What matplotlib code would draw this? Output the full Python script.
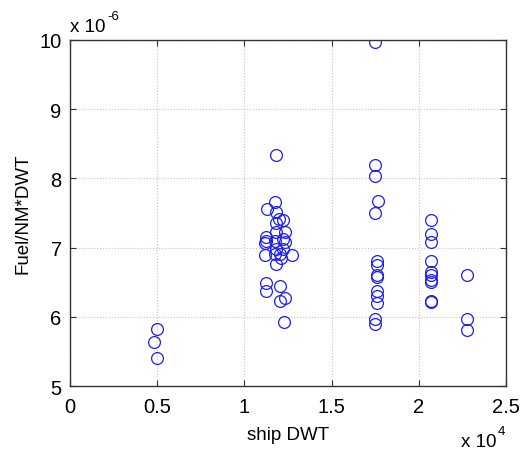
import matplotlib
matplotlib.use('Agg')
import matplotlib.pyplot as plt

# ship DWT in units of 1e4, fuel per NM per DWT in units of 1e-6
dwt = [0.50, 0.48, 0.50,
       1.184, 1.174, 1.13, 1.184, 1.20, 1.222, 1.18, 1.184, 1.23, 1.126,
       1.126, 1.174, 1.222, 1.23, 1.12, 1.184, 1.222, 1.12, 1.174, 1.203,
       1.275, 1.184, 1.21, 1.126, 1.126, 1.203, 1.207, 1.23, 1.226,
       1.747, 1.747, 1.747, 1.764, 1.747, 1.762, 1.762, 1.762, 1.762,
       1.762, 1.762, 1.762, 1.747, 1.747,
       2.07, 2.07, 2.07, 2.07, 2.07, 2.07, 2.07, 2.07, 2.07, 2.07,
       2.277, 2.277, 2.277]
fuel = [5.83, 5.64, 5.40,
        8.34, 7.66, 7.56, 7.51, 7.42, 7.40, 7.36, 7.22, 7.22, 7.16,
        7.10, 7.10, 7.13, 7.08, 7.06, 6.98, 6.98, 6.89, 6.91, 6.91,
        6.89, 6.77, 6.85, 6.49, 6.38, 6.45, 6.23, 6.27, 5.93,
        9.97, 8.19, 8.03, 7.68, 7.50, 6.80, 6.75, 6.60, 6.57,
        6.38, 6.30, 6.20, 5.97, 5.90,
        7.40, 7.19, 7.08, 6.80, 6.65, 6.61, 6.53, 6.50, 6.23, 6.21,
        6.61, 5.97, 5.81]

xticks = [0, 0.5, 1, 1.5, 2, 2.5]
xticklabels = ['0', '0.5', '1', '1.5', '2', '2.5']
yticks = [5, 6, 7, 8, 9, 10]

plt.rcParams['font.family'] = ['Liberation Sans', 'DejaVu Sans']

fig = plt.figure(figsize=(5.23, 4.52), dpi=100)
ax = fig.add_axes([0.1338, 0.1438, 0.8337, 0.7655])

ax.plot(dwt, fuel, 'o', linestyle='none', markerfacecolor='none',
        markeredgecolor='#2020e0', markersize=8.5, markeredgewidth=0.9)

ax.set_xlim(0, 2.5)
ax.set_ylim(5, 10)
ax.set_xticks(xticks)
ax.set_xticklabels(xticklabels)
ax.set_yticks(yticks)
ax.grid(True, linestyle=':', color='#c4c4c4', linewidth=0.8)
ax.tick_params(direction='in', top=True, right=True, labelsize=14.5,
               length=4, color='#333333')
ax.tick_params(axis='x', pad=8)
ax.tick_params(axis='y', pad=6)
for s in ax.spines.values():
    s.set_color('#333333')
    s.set_linewidth(1.0)

ax.set_xlabel('ship DWT', fontsize=13.5, labelpad=7)
ax.set_ylabel('Fuel/NM*DWT', fontsize=13.5, labelpad=6)


# MATLAB style exponent labels: "x 10" with a small raised exponent
def exp_label(x, y, exponent):
    t = fig.text(x, y, 'x 10', fontsize=13.5, va='baseline')
    ax.annotate(exponent, xy=(1, 0.75), xycoords=t, fontsize=9.5,
                va='bottom', ha='left', xytext=(1, 0),
                textcoords='offset points')


exp_label(0.134, 0.930, '-6')
exp_label(0.882, 0.012, '4')

fig.savefig('out.png', dpi=100, facecolor='white')
